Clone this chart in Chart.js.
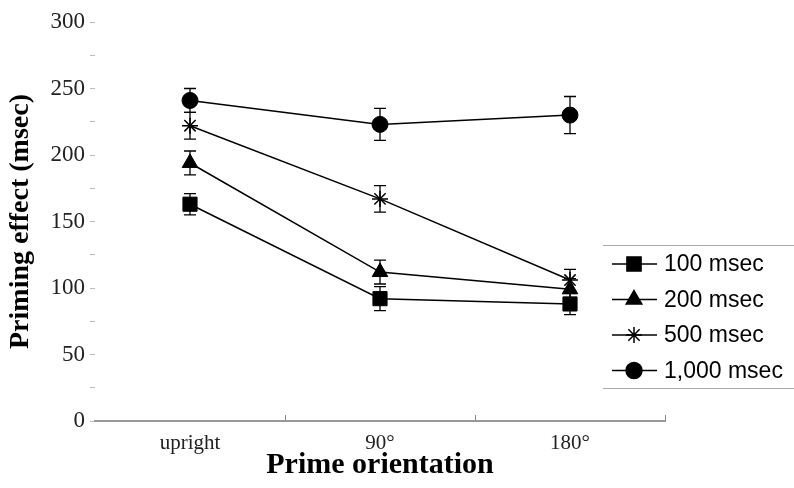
<!DOCTYPE html>
<html>
<head>
<meta charset="utf-8">
<script src="https://cdn.jsdelivr.net/npm/chart.js@4.4.1/dist/chart.umd.min.js"></script>
<style>
  html, body { margin: 0; padding: 0; background: #fff; }
  #wrap { width: 794px; height: 488px; }
</style>
</head>
<body>
<div id="wrap"><canvas id="chartCanvas" width="794" height="488"></canvas></div>
<script>
const categories = ["upright", "90\u00b0", "180\u00b0"];
const seriesLabels = ["100 msec", "200 msec", "500 msec", "1,000 msec"];
const msec100 = [163, 92, 88];
const msec200 = [194, 112, 99];
const msec500 = [222, 167, 106];
const msec1000 = [241, 223, 230];
const err100 = [8, 9, 8];
const err200 = [9, 9, 8];
const err500 = [10, 10, 8];
const err1000 = [9, 12, 14];
const yTicks = [0, 50, 100, 150, 200, 250, 300];

const serif = "'Liberation Serif', 'Times New Roman', serif";
const sans = "'Liberation Sans', Arial, sans-serif";

// error bars, upward category ticks and the boxed legend
const extras = {
  id: "extras",
  beforeDatasetsDraw(chart) {
    const ctx = chart.ctx;
    const y = chart.scales.y;
    ctx.save();
    ctx.strokeStyle = "#000";
    ctx.lineWidth = 1.3;
    chart.data.datasets.forEach((ds, i) => {
      const meta = chart.getDatasetMeta(i);
      meta.data.forEach((pt, j) => {
        const top = y.getPixelForValue(ds.data[j] + ds.errors[j]);
        const bot = y.getPixelForValue(ds.data[j] - ds.errors[j]);
        ctx.beginPath();
        ctx.moveTo(pt.x, top); ctx.lineTo(pt.x, bot);
        ctx.moveTo(pt.x - 6, top); ctx.lineTo(pt.x + 6, top);
        ctx.moveTo(pt.x - 6, bot); ctx.lineTo(pt.x + 6, bot);
        ctx.stroke();
      });
    });
    // small upward ticks between categories on the x axis
    const x = chart.scales.x;
    const half = (x.getPixelForValue(1) - x.getPixelForValue(0)) / 2;
    ctx.strokeStyle = "#888";
    ctx.lineWidth = 1;
    for (let j = 0; j < categories.length; j++) {
      const px = Math.round(x.getPixelForValue(j) + half) + 0.5;
      ctx.beginPath();
      ctx.moveTo(px, chart.chartArea.bottom);
      ctx.lineTo(px, chart.chartArea.bottom - 6);
      ctx.stroke();
    }
    ctx.restore();
  },
  afterDraw(chart) {
    const ctx = chart.ctx;
    const left = 603, right = 794, top = 245, bottom = 388;
    ctx.save();
    ctx.strokeStyle = "#aaa";
    ctx.lineWidth = 1;
    ctx.beginPath();
    ctx.moveTo(left, top + 0.5); ctx.lineTo(right, top + 0.5);
    ctx.moveTo(left, bottom + 0.5); ctx.lineTo(right, bottom + 0.5);
    ctx.stroke();
    ctx.font = "23px " + sans;
    ctx.textBaseline = "middle";
    chart.data.datasets.forEach((ds, i) => {
      const cy = 264 + i * 35.5;
      ctx.strokeStyle = "#000";
      ctx.lineWidth = 1.5;
      ctx.beginPath();
      ctx.moveTo(612, cy); ctx.lineTo(657, cy);
      ctx.stroke();
      ctx.fillStyle = "#000";
      Chart.helpers.drawPoint(ctx, {
        pointStyle: ds.pointStyle,
        radius: ds.pointRadius,
        rotation: 0,
        borderWidth: ds.pointBorderWidth || 1
      }, 634, cy);
      ctx.fillStyle = "#000";
      ctx.fillText(ds.label, 664, cy + 1);
    });
    ctx.restore();
  }
};

const makeSeries = (label, data, errors, style, radius) => ({
  label: label,
  data: data,
  errors: errors,
  borderColor: "#000",
  backgroundColor: "#000",
  borderWidth: 1.5,
  pointStyle: style,
  pointRadius: radius,
  pointBorderWidth: style === "star" ? 1.5 : 1,
  pointBackgroundColor: "#000",
  pointBorderColor: "#000",
  tension: 0,
  fill: false
});

new Chart(document.getElementById("chartCanvas"), {
  type: "line",
  data: {
    labels: categories,
    datasets: [
      makeSeries(seriesLabels[0], msec100, err100, "rect", 10),
      makeSeries(seriesLabels[1], msec200, err200, "triangle", 9),
      makeSeries(seriesLabels[2], msec500, err500, "star", 8),
      makeSeries(seriesLabels[3], msec1000, err1000, "circle", 8)
    ]
  },
  options: {
    responsive: false,
    devicePixelRatio: 1,
    animation: false,
    layout: { padding: { top: 22, right: 129, left: 0, bottom: 0 } },
    plugins: {
      legend: { display: false },
      tooltip: { enabled: false }
    },
    scales: {
      x: {
        type: "category",
        offset: true,
        grid: { display: true, drawOnChartArea: false, drawTicks: false, offset: true },
        border: { display: true, color: "#999", width: 2 },
        ticks: { color: "#222", padding: 10, font: { family: serif, size: 21 } },
        title: {
          display: true,
          text: "Prime orientation",
          color: "#000",
          font: { family: serif, size: 30, weight: "bold" },
          padding: { top: 0, bottom: 5 }
        },
        afterFit: (s) => { s.height = 67; }
      },
      y: {
        min: 0,
        max: 300,
        grid: { display: true, drawOnChartArea: false, drawTicks: true, tickLength: 5, tickColor: "#bbb" },
        border: { display: false },
        ticks: {
          stepSize: 25,
          padding: 5,
          color: "#222",
          font: { family: serif, size: 23 },
          callback: (v) => (yTicks.includes(v) ? v : "")
        },
        title: {
          display: true,
          text: "Priming effect (msec)",
          color: "#000",
          font: { family: serif, size: 28, weight: "bold" },
          padding: { top: 4, bottom: 0 }
        },
        afterFit: (s) => { s.width = 95; }
      }
    }
  },
  plugins: [extras]
});
</script>
</body>
</html>
